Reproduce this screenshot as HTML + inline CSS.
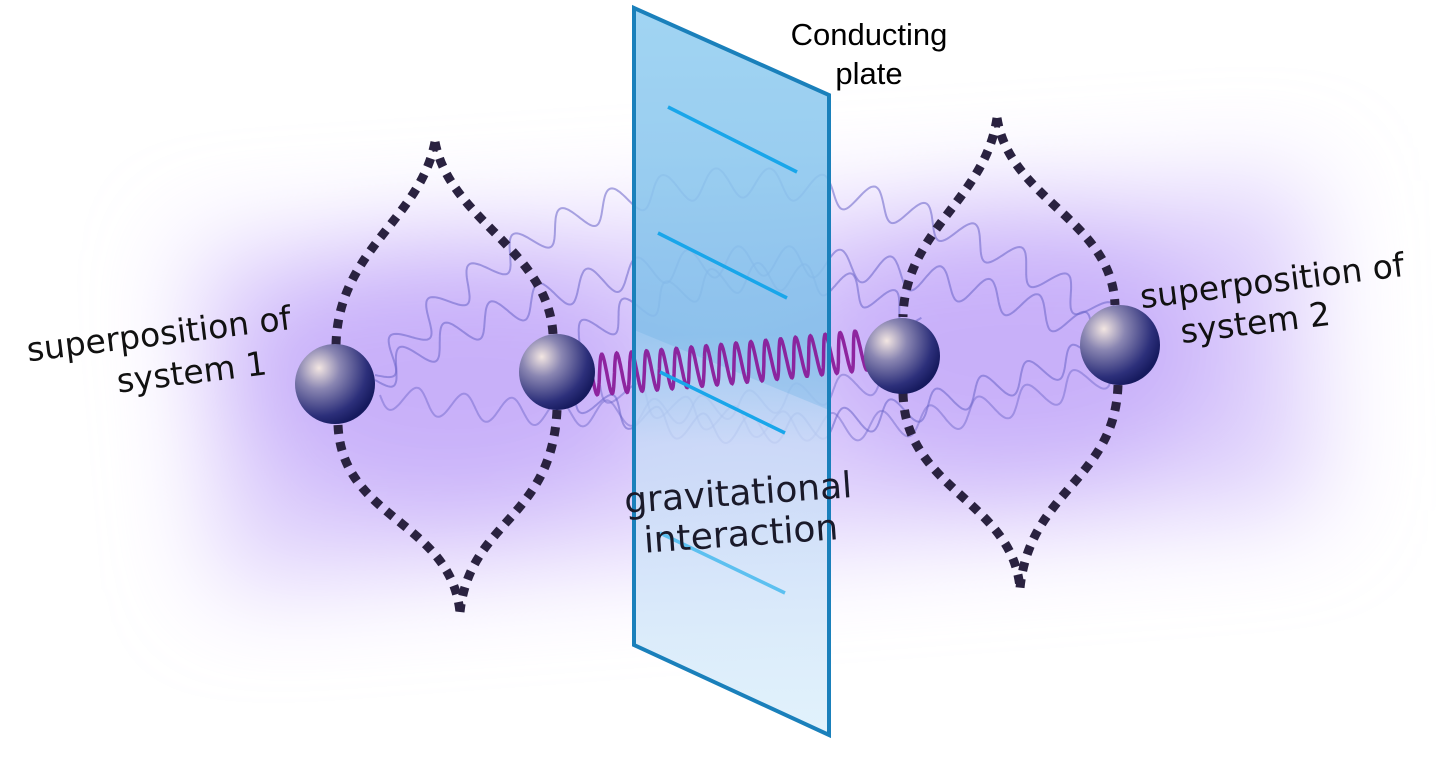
<!DOCTYPE html>
<html><head><meta charset="utf-8"><style>
html,body{margin:0;padding:0;background:#fff;width:1440px;height:764px;overflow:hidden}
svg{display:block}
</style></head><body>
<svg id="s" width="1440" height="764" viewBox="0 0 1440 764" xmlns="http://www.w3.org/2000/svg">
<defs>
<filter id="blur" x="-30%" y="-50%" width="160%" height="200%"><feGaussianBlur stdDeviation="50"/></filter>
<radialGradient id="sph" cx="0.3" cy="0.3" r="0.75">
<stop offset="0" stop-color="#f3e6e2"/><stop offset="0.35" stop-color="#8a86b2"/><stop offset="0.8" stop-color="#2c2f7a"/><stop offset="1" stop-color="#161a5e"/></radialGradient>
<linearGradient id="plate" x1="0" y1="0" x2="0" y2="1">
<stop offset="0" stop-color="#ade0f8"/><stop offset="0.45" stop-color="#92c8ee"/><stop offset="0.6" stop-color="#c8daf7"/><stop offset="1" stop-color="#dcf0fb"/></linearGradient>
</defs>
<g filter="url(#blur)">
<polygon points="190,250 1310,180 1320,510 220,590" fill="#d7c6fb" opacity="0.8"/>
<ellipse cx="450" cy="380" rx="210" ry="130" fill="#b796f6" opacity="0.55"/>
<ellipse cx="1010" cy="350" rx="210" ry="130" fill="#b796f6" opacity="0.55"/>
</g>
<g id="waves" fill="none"></g>
<polygon points="634,8 829,95 829,735 634,645" fill="url(#plate)" opacity="0.85"/>
<polygon points="634,8 829,95 829,410 634,330" fill="#6aaee4" opacity="0.3"/>
<g id="spring" fill="none"></g>
<polygon points="634,8 829,95 829,735 634,645" fill="none" stroke="#1a80bb" stroke-width="4"/>
<g stroke="#19a6ea" stroke-width="3.5">
<line x1="668" y1="107" x2="797" y2="172"/>
<line x1="658" y1="233" x2="787" y2="298"/>
<line x1="660" y1="372" x2="785" y2="433"/>
<line x1="660" y1="533" x2="785" y2="593" stroke="#5cc0f0"/>
</g>
<g fill="none" stroke="#2a2240" stroke-width="9" stroke-dasharray="9 8">
<path d="M435,142 C420,220 338,250 336,345"/>
<path d="M435,142 C450,220 548,250 553,334"/>
<path d="M338,425 C342,520 450,520 460,612"/>
<path d="M557,410 C552,520 470,520 460,612"/>
<path d="M997,118 C985,200 905,230 903,317"/>
<path d="M997,118 C1010,200 1112,220 1115,305"/>
<path d="M903,393 C905,490 1012,500 1020,588"/>
<path d="M1118,385 C1115,480 1030,490 1020,588"/>
</g>
<circle cx="335" cy="384" r="40" fill="url(#sph)"/>
<circle cx="557" cy="372" r="38" fill="url(#sph)"/>
<circle cx="902" cy="356" r="38" fill="url(#sph)"/>
<circle cx="1120" cy="345" r="40" fill="url(#sph)"/>
<g font-family="'DejaVu Sans', sans-serif" fill="#111">
<text x="162" y="345" font-size="33" text-anchor="middle" transform="rotate(-7 162 360)">superposition of</text>
<text x="190" y="387" font-size="33" text-anchor="middle" transform="rotate(-7 162 360)">system 1</text>
<text x="1275" y="292" font-size="33" text-anchor="middle" transform="rotate(-7 1275 305)">superposition of</text>
<text x="1255" y="334" font-size="33" text-anchor="middle" transform="rotate(-7 1255 320)">system 2</text>
<text x="740" y="505" font-size="36" text-anchor="middle" fill="#1a1a2a" transform="rotate(-4 740 520)">gravitational</text>
<text x="740" y="546" font-size="36" text-anchor="middle" fill="#1a1a2a" transform="rotate(-4 740 520)">interaction</text>
</g>
<g font-family="'Liberation Sans', Arial, sans-serif" font-size="31" fill="#000" text-anchor="middle">
<text x="869" y="45">Conducting</text>
<text x="869" y="84">plate</text>
</g>
<script>
(function(){
var ns="http://www.w3.org/2000/svg";
function wave(g,p0,p1,p2,amp,period,color,w,op){
 var pts=[],N=600,len=0,prev=null;
 for(var i=0;i<=N;i++){var t=i/N;
  var x=(1-t)*(1-t)*p0[0]+2*(1-t)*t*p1[0]+t*t*p2[0];
  var y=(1-t)*(1-t)*p0[1]+2*(1-t)*t*p1[1]+t*t*p2[1];
  var dx=2*(1-t)*(p1[0]-p0[0])+2*t*(p2[0]-p1[0]);
  var dy=2*(1-t)*(p1[1]-p0[1])+2*t*(p2[1]-p1[1]);
  var m=Math.hypot(dx,dy);
  if(prev)len+=Math.hypot(x-prev[0],y-prev[1]);prev=[x,y];
  var o=amp*Math.sin(2*Math.PI*len/period);
  pts.push((x-dy/m*o).toFixed(1)+","+(y+dx/m*o).toFixed(1));}
 var p=document.createElementNS(ns,"path");
 p.setAttribute("d","M"+pts.join(" L"));p.setAttribute("stroke",color);
 p.setAttribute("stroke-width",w);p.setAttribute("opacity",op);g.appendChild(p);}
var g=document.getElementById("waves");
var c="#6a64c8";
wave(g,[375,375],[680,20],[1110,320],15,52,c,2,0.55);
wave(g,[375,380],[700,170],[1090,330],15,50,c,2,0.55);
wave(g,[560,350],[760,220],[920,320],14,45,c,2,0.55);
wave(g,[575,395],[760,480],[1085,355],14,48,c,2,0.55);
wave(g,[380,395],[640,440],[900,375],13,48,c,2,0.45);
wave(g,[600,385],[850,480],[1140,360],14,50,c,2,0.45);
var s=document.getElementById("spring");
wave(s,[592,375],[730,365],[866,350],20,15,"#8a1c9a",3.5,0.95);
})();
</script>
</svg>
</body></html>
